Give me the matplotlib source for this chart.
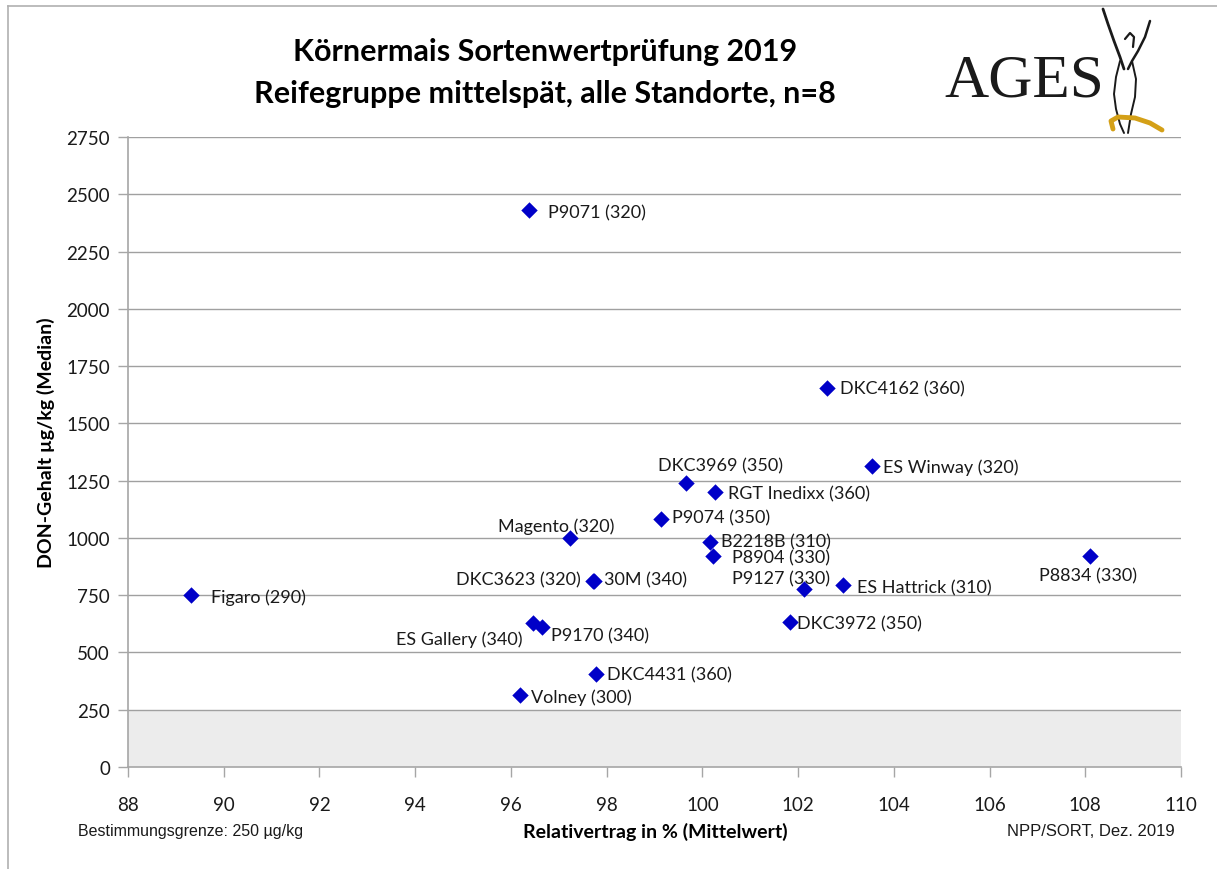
import matplotlib
matplotlib.use("Agg")
import matplotlib.pyplot as plt
from matplotlib.lines import Line2D

# ---- data ----
names = ["P9071 (320)", "DKC4162 (360)", "ES Winway (320)", "DKC3969 (350)",
         "RGT Inedixx (360)", "P9074 (350)", "Magento (320)", "B2218B (310)",
         "P8904 (330)", "P9127 (330)", "ES Hattrick (310)", "P8834 (330)",
         "DKC3623 (320)", "30M (340)", "Figaro (290)", "ES Gallery (340)",
         "P9170 (340)", "DKC3972 (350)", "DKC4431 (360)", "Volney (300)"]
rel_yield = [96.38, 102.6, 103.55, 99.66, 100.26, 99.14, 97.24, 100.16,
             100.22, 102.12, 102.94, 108.1, 97.72, 97.74, 89.32, 96.46,
             96.65, 101.83, 97.78, 96.19]
don = [2430, 1655, 1314, 1240, 1200, 1082, 1000, 982,
       921, 777, 794, 921, 812, 812, 751, 628,
       611, 633, 406, 314]
xticks = list(range(88, 111, 2))
yticks = list(range(0, 2751, 250))
limit = 250

# label offsets in pixels (dx, dy) and horizontal alignment
label_pos = {
    "P9071 (320)": (19, -2, "left"),
    "DKC4162 (360)": (13, -1, "left"),
    "ES Winway (320)": (11, -1, "left"),
    "DKC3969 (350)": (34, 18, "center"),
    "RGT Inedixx (360)": (13, -1, "left"),
    "P9074 (350)": (11, 2, "left"),
    "Magento (320)": (-14, 12, "center"),
    "B2218B (310)": (11, 1, "left"),
    "P8904 (330)": (19, -1, "left"),
    "P9127 (330)": (-23, 11, "center"),
    "ES Hattrick (310)": (14, -2, "left"),
    "P8834 (330)": (-2, -19, "center"),
    "DKC3623 (320)": (-12, 2, "right"),
    "30M (340)": (10, 2, "left"),
    "Figaro (290)": (20, -2, "left"),
    "ES Gallery (340)": (-10, -16, "right"),
    "P9170 (340)": (9, -8, "left"),
    "DKC3972 (350)": (7, -1, "left"),
    "DKC4431 (360)": (11, 0, "left"),
    "Volney (300)": (11, -2, "left"),
}

W, H = 1217, 870
fig = plt.figure(figsize=(W / 100, H / 100), dpi=100)
ax = fig.add_axes([128 / W, 1 - 768 / H, (1181 - 128) / W, (768 - 138) / H])

font = ["Lato", "DejaVu Sans"]
gray = "#a6a6a6"

ax.set_xlim(88, 110)
ax.set_ylim(0, 2750)
ax.axhspan(0, limit, color="#ececec", zorder=0, lw=0)
for y in yticks[1:]:
    ax.axhline(y, color="#a0a0a0", lw=1.0, zorder=1)

ax.scatter(rel_yield, don, marker="D", s=70, color="#0000c8", zorder=3, linewidths=0)

for n, x, y in zip(names, rel_yield, don):
    dx, dy, ha = label_pos[n]
    ax.annotate(n, (x, y), xytext=(dx, dy), textcoords="offset pixels",
                ha=ha, va="center", fontsize=13, family=font, color="#1a1a1a", zorder=4)

ax.set_xticks(xticks)
ax.set_yticks(yticks)
ax.tick_params(axis="both", direction="out", length=7, width=1, color=gray,
               labelsize=13.5)
for lab in ax.get_xticklabels() + ax.get_yticklabels():
    lab.set_family(font)
    lab.set_color("#1a1a1a")
ax.tick_params(axis="x", pad=14)
ax.tick_params(axis="y", pad=6)
for s in ["top", "right"]:
    ax.spines[s].set_visible(False)
for s in ["left", "bottom"]:
    ax.spines[s].set_color(gray)
    ax.spines[s].set_linewidth(1.2)

ax.set_xlabel("Relativertrag in % (Mittelwert)", fontsize=14, fontweight="bold", family=font)
ax.set_ylabel("DON-Gehalt µg/kg (Median)", fontsize=14, fontweight="bold", family=font)
ax.xaxis.set_label_coords((655 - 128) / (1181 - 128), -(823 - 768) / (768 - 138))
ax.yaxis.set_label_coords(-(128 - 55) / (1181 - 128), (768 - 443) / (768 - 138))

# title
fig.text(545 / W, 1 - 52 / H, "Körnermais Sortenwertprüfung 2019", ha="center", va="center",
         fontsize=22, fontweight="bold", family=font)
fig.text(545 / W, 1 - 94 / H, "Reifegruppe mittelspät, alle Standorte, n=8", ha="center",
         va="center", fontsize=22, fontweight="bold", family=font)

# footnotes
fig.text(78 / W, 1 - 832 / H, "Bestimmungsgrenze: 250 µg/kg", ha="left", va="center",
         fontsize=11.5, family=["Liberation Sans", "DejaVu Sans"], color="#1a1a1a")
fig.text(1175 / W, 1 - 832 / H, "NPP/SORT, Dez. 2019", ha="right", va="center",
         fontsize=12, family=["Liberation Sans", "DejaVu Sans"], color="#1a1a1a")

# frame (left and top)
fig.add_artist(Line2D([8 / W, 8 / W], [0, 1 - 7 / H], transform=fig.transFigure, color="#b0b0b0", lw=1.2))
fig.add_artist(Line2D([8 / W, 1], [1 - 7 / H, 1 - 7 / H], transform=fig.transFigure, color="#b0b0b0", lw=1.2))

# logo
fig.text(1024 / W, 1 - 82 / H, "AGES", ha="center", va="center", fontsize=44,
         family=["Liberation Serif", "DejaVu Serif"], color="#1a1a1a")
def px(xs, ys):
    return [x / W for x in xs], [1 - y / H for y in ys]
for xs, ys, lw in [
    ([1103, 1108, 1114, 1120, 1124], [10, 25, 42, 58, 70], 2.0),
    ([1150, 1145, 1138, 1132, 1128], [22, 38, 52, 62, 70], 1.8),
    ([1120, 1116, 1114, 1116, 1120, 1124], [62, 78, 95, 110, 125, 134], 1.4),
    ([1132, 1136, 1135, 1131, 1128], [62, 80, 98, 115, 134], 1.4),
    ([1125, 1130, 1134, 1133], [40, 34, 38, 48], 1.6),
]:
    a, b = px(xs, ys)
    fig.add_artist(Line2D(a, b, transform=fig.transFigure, color="#1a1a1a", lw=lw,
                          solid_capstyle="round"))
a, b = px([1113, 1111, 1118, 1135, 1150, 1162], [130, 122, 118, 119, 124, 131])
fig.add_artist(Line2D(a, b, transform=fig.transFigure, color="#d4a017", lw=3.5,
                      solid_capstyle="round"))

fig.savefig("out.png", dpi=100)
